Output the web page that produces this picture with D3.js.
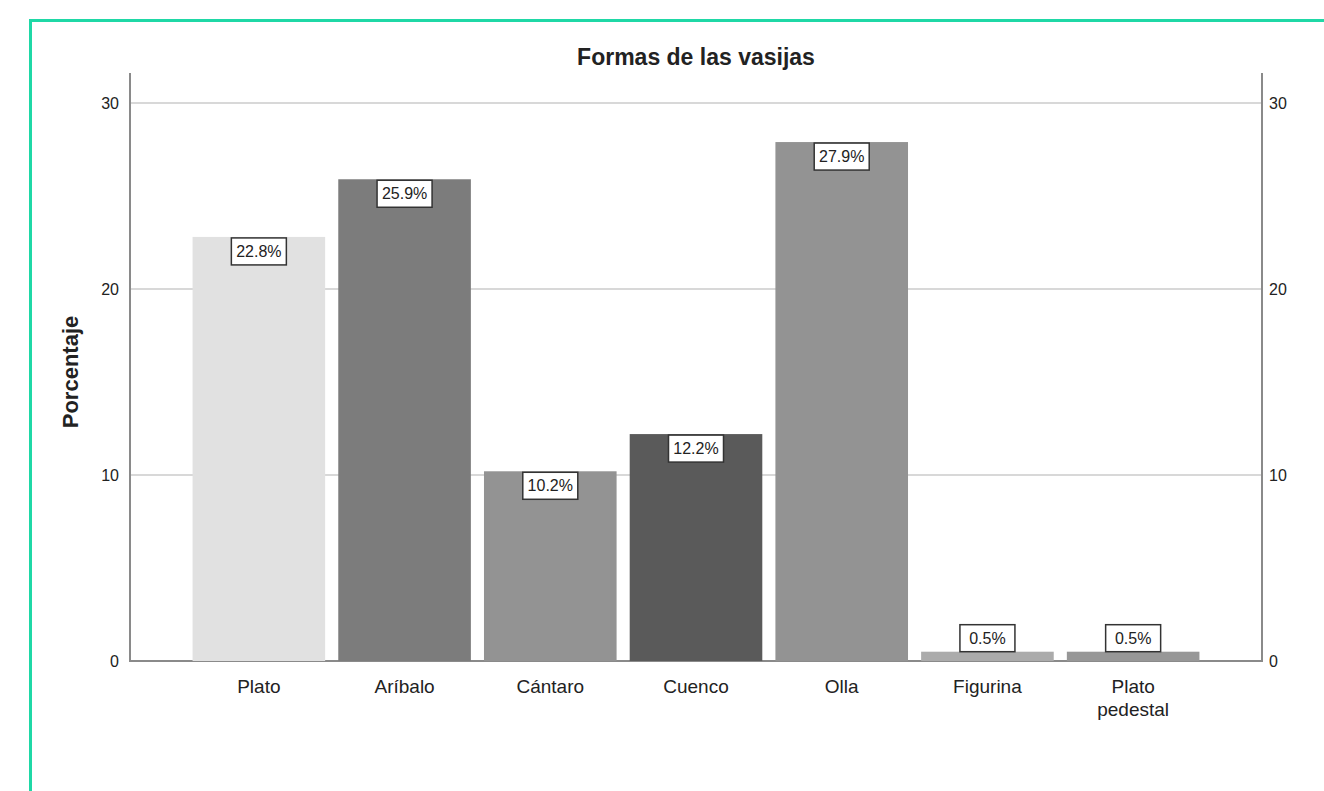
<!DOCTYPE html>
<html>
<head>
<meta charset="utf-8">
<script src="https://cdn.jsdelivr.net/npm/d3@7"></script>
<style>
  body { margin: 0; background: #fff; }
  text { font-family: "Liberation Sans", Arial, sans-serif; fill: #222; }
</style>
</head>
<body>
<div id="chart"></div>
<script>
// data
const categories = ["Plato", "Aríbalo", "Cántaro", "Cuenco", "Olla", "Figurina", "Plato pedestal"];
const percents = [22.8, 25.9, 10.2, 12.2, 27.9, 0.5, 0.5];
const barColors = ["#e1e1e1", "#7c7c7c", "#939393", "#5a5a5a", "#939393", "#ababab", "#979797"];
const yTicks = [0, 10, 20, 30];

const width = 1324, height = 791;
const plot = { left: 130, right: 1262, top: 73, bottom: 661 };

const svg = d3.select("#chart").append("svg")
  .attr("width", width)
  .attr("height", height);

// green frame
svg.append("rect")
  .attr("x", 30.5).attr("y", 20.5)
  .attr("width", 1400).attr("height", 900)
  .attr("fill", "none")
  .attr("stroke", "#1fd8a6")
  .attr("stroke-width", 3);

const xScale = d3.scaleBand()
  .domain(categories)
  .range([186, 1206])
  .paddingInner(0.09)
  .paddingOuter(0.045);

const yScale = d3.scaleLinear()
  .domain([0, 30])
  .range([plot.bottom, 103]);

// gridlines
svg.append("g")
  .selectAll("line")
  .data(yTicks.filter(d => d > 0))
  .join("line")
  .attr("x1", plot.left).attr("x2", plot.right)
  .attr("y1", d => yScale(d)).attr("y2", d => yScale(d))
  .attr("stroke", "#d8d8d8")
  .attr("stroke-width", 2);

// axes (no tick marks, just the lines and labels)
const axisColor = "#8a8a8a";
svg.append("path")
  .attr("d", `M${plot.left},${plot.top}V${plot.bottom}H${plot.right}V${plot.top}`)
  .attr("fill", "none")
  .attr("stroke", axisColor)
  .attr("stroke-width", 2);

const leftAxis = svg.append("g")
  .attr("transform", `translate(${plot.left},0)`)
  .call(d3.axisLeft(yScale).tickValues(yTicks).tickSize(0).tickPadding(11));
const rightAxis = svg.append("g")
  .attr("transform", `translate(${plot.right},0)`)
  .call(d3.axisRight(yScale).tickValues(yTicks).tickSize(0).tickPadding(7));
[leftAxis, rightAxis].forEach(g => {
  g.select(".domain").remove();
  g.selectAll("text")
    .style("font-family", "'Liberation Sans', Arial, sans-serif")
    .style("font-size", "16px")
    .attr("fill", "#222");
});

// bars
svg.append("g")
  .selectAll("rect")
  .data(percents)
  .join("rect")
  .attr("x", (d, i) => xScale(categories[i]))
  .attr("y", d => yScale(d))
  .attr("width", xScale.bandwidth())
  .attr("height", d => yScale(0) - yScale(d))
  .attr("fill", (d, i) => barColors[i]);

// value labels in boxes
const boxW = 55, boxH = 27;
const labels = svg.append("g")
  .selectAll("g")
  .data(percents)
  .join("g")
  .attr("transform", (d, i) => {
    const cx = xScale(categories[i]) + xScale.bandwidth() / 2;
    const barH = yScale(0) - yScale(d);
    const top = barH > boxH + 4 ? yScale(d) + 1 : yScale(d) - boxH;
    return `translate(${cx},${top})`;
  });
labels.append("rect")
  .attr("x", -boxW / 2).attr("y", 0)
  .attr("width", boxW).attr("height", boxH)
  .attr("fill", "#fff")
  .attr("stroke", "#333")
  .attr("stroke-width", 1.5);
labels.append("text")
  .attr("y", boxH / 2)
  .attr("dy", "0.35em")
  .attr("text-anchor", "middle")
  .style("font-size", "16px")
  .text(d => d.toFixed(1) + "%");

// category labels (wrap "Plato pedestal")
svg.append("g")
  .selectAll("text")
  .data(categories)
  .join("text")
  .attr("x", d => xScale(d) + xScale.bandwidth() / 2)
  .attr("y", 693)
  .attr("text-anchor", "middle")
  .style("font-size", "19px")
  .each(function (d) {
    const words = d === "Plato pedestal" ? ["Plato", "pedestal"] : [d];
    const t = d3.select(this);
    words.forEach((w, k) => {
      t.append("tspan")
        .attr("x", t.attr("x"))
        .attr("dy", k === 0 ? 0 : 23)
        .text(w);
    });
  });

// title
svg.append("text")
  .attr("x", (plot.left + plot.right) / 2)
  .attr("y", 65)
  .attr("text-anchor", "middle")
  .style("font-size", "23px")
  .style("font-weight", "bold")
  .text("Formas de las vasijas");

// y axis title
svg.append("text")
  .attr("transform", `translate(78,372) rotate(-90)`)
  .attr("text-anchor", "middle")
  .style("font-size", "22px")
  .style("font-weight", "bold")
  .text("Porcentaje");
</script>
</body>
</html>
